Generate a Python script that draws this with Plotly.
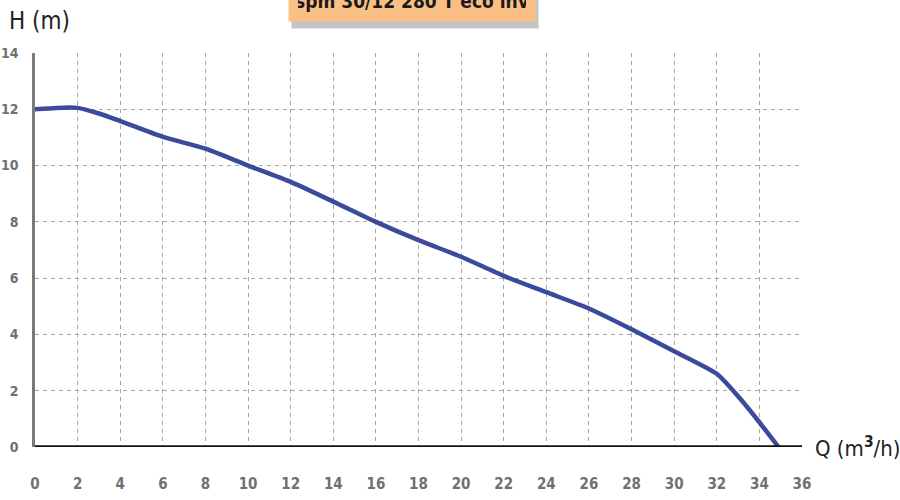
import plotly.graph_objects as go

# Pump curve data
q_values = [0, 1, 2, 3, 4, 6, 8, 10, 12, 14, 16, 18, 20, 22, 24, 26, 28, 30, 32, 33, 34, 34.9]
h_values = [12.0, 12.05, 12.05, 11.85, 11.58, 11.02, 10.6, 10.0, 9.42, 8.72, 8.0, 7.35, 6.76, 6.08,
            5.5, 4.92, 4.18, 3.4, 2.6, 1.8, 0.88, 0.0]

x_ticks = list(range(0, 37, 2))
y_ticks = list(range(0, 15, 2))

title_text = "spm 30/12 280 T eco inv"

_LINE = "#3b4a9c"
_GRID = "#a8a8a8"
_TICK = "#707070"
_NARROW = "Liberation Sans Narrow, DejaVu Sans Condensed, Roboto"

fig = go.Figure()

fig.add_trace(go.Scatter(
    x=q_values, y=h_values,
    mode="lines",
    line=dict(color=_LINE, width=4.5, shape="spline", smoothing=0.6),
    showlegend=False,
))

fig.update_layout(
    width=900, height=500,
    paper_bgcolor="white", plot_bgcolor="white",
    margin=dict(l=35, r=98, t=53, b=53),
    xaxis=dict(
        range=[0, 36], tickvals=x_ticks, automargin=False,
        showgrid=True, gridcolor=_GRID, griddash="4px,4px", gridwidth=1,
        zeroline=False, showline=False,
        ticks="", ticklabelstandoff=26,
        tickfont=dict(family=_NARROW, size=15, color=_TICK, weight="bold"),
    ),
    yaxis=dict(
        range=[0, 14], tickvals=y_ticks, automargin=False,
        showgrid=True, gridcolor=_GRID, griddash="4px,4px", gridwidth=1,
        zeroline=False, showline=True, linecolor="#7a7a7a", linewidth=2.5,
        ticks="", ticklabelstandoff=11,
        tickfont=dict(family=_NARROW, size=14, color=_TICK, weight="bold"),
    ),
)

# x-axis line (black, heavy)
fig.add_shape(type="line", xref="x", yref="y", x0=0, x1=36.1, y0=0, y1=0,
              line=dict(color="#111111", width=3.5))

# axis titles
fig.add_annotation(text="H (m)", xref="paper", yref="paper", x=-0.0365, y=1.0,
                   xanchor="left", yanchor="middle", yshift=32, showarrow=False,
                   font=dict(family=_NARROW, size=24, color="#222222"))
fig.add_annotation(text="Q (m<sup><b>3</b></sup>/h)", xref="paper", yref="y", x=1.0, y=0,
                   xanchor="left", yanchor="middle", xshift=11, showarrow=False,
                   font=dict(family=_NARROW, size=22, color="#222222"))

# clipped title box with shadow
fig.add_annotation(text="", xref="paper", yref="paper", x=0.4915, y=1.0,
                   xanchor="center", yanchor="bottom", yshift=24, xshift=3,
                   width=228, height=36, borderpad=9,
                   showarrow=False, bgcolor="#c4c4c4")
fig.add_annotation(text="<b>" + title_text + "</b>", xref="paper", yref="paper", x=0.4915, y=1.0,
                   xanchor="center", yanchor="bottom", yshift=31,
                   width=228, height=36, borderpad=9, valign="bottom",
                   showarrow=False, bgcolor="#f9bf85",
                   font=dict(family=_NARROW, size=19, color="#1a1a1a"))

# page body margin removed so the figure sits at the window's corner
fig.write_html("out.html", config={"displayModeBar": False},
               post_script="document.body.style.margin='0';")
